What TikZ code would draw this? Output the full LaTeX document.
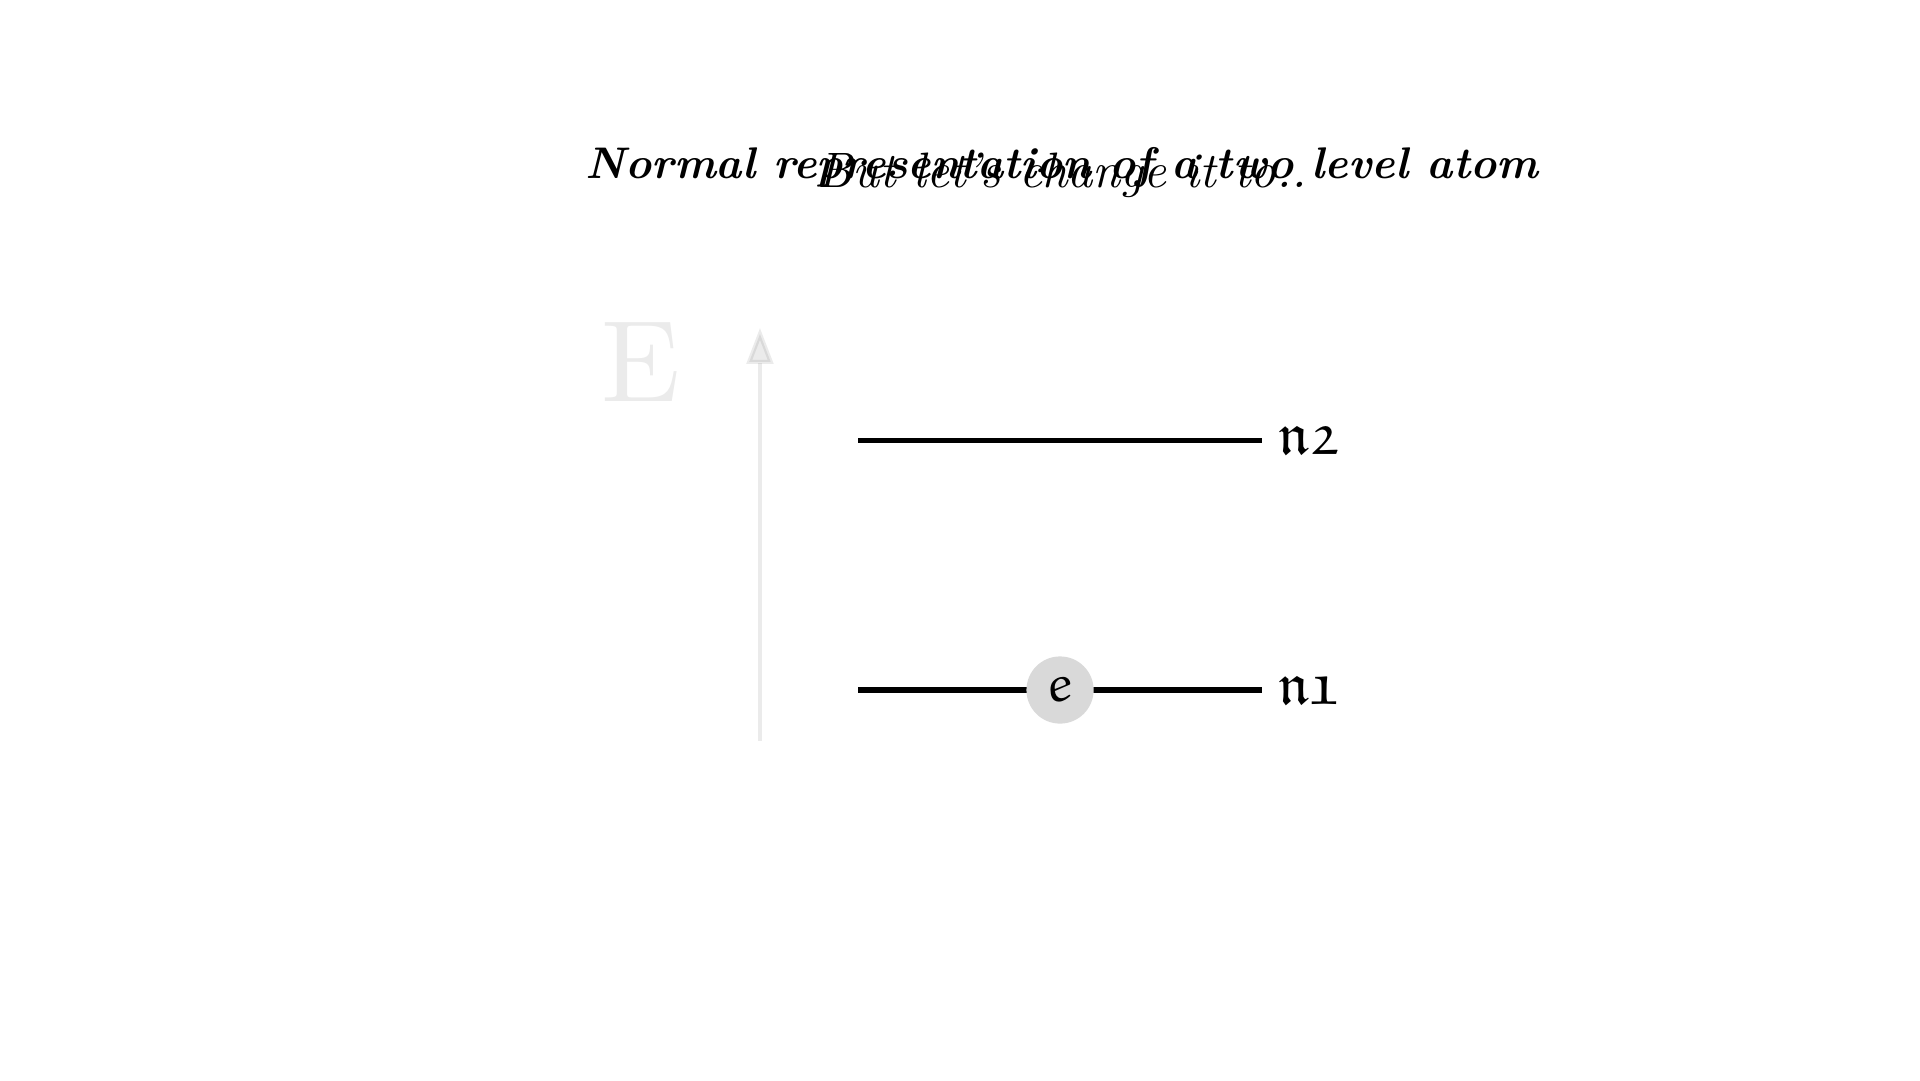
\documentclass[tikz,border=0pt]{standalone}
\usepackage{amssymb}
\usetikzlibrary{arrows.meta,calc}
\DeclareMathAlphabet{\matheul}{U}{eur}{m}{n}
\begin{document}
\begin{tikzpicture}[every node/.style={inner sep=0pt},
  level/.style={line width=1.2pt},
  lvlabel/.style={anchor=west, font=\fontsize{14}{16}\selectfont},
  electron/.style={circle, fill=gray!30, minimum size=0.56cm, font=\fontsize{12}{14}\selectfont}]
  \useasboundingbox (0,0) rectangle (16,-9);
  % titles, one on top of the other
  \node[anchor=base] (t1) at (8.85,-1.49) {\fontsize{10.5}{12}\selectfont\bfseries\itshape Normal representation of a two level atom};
  \node[anchor=base, scale=1.18, transform shape] (t2) at (8.85,-1.56) {\fontsize{10}{12}\selectfont\itshape But let's change it to..};
  % energy axis
  \coordinate (ebot) at (6.333,-6.175);
  \coordinate (etop) at (6.333,-2.733);
  \draw[-{Triangle[length=3mm,width=2.2mm]}, line width=1pt, opacity=0.08] (ebot) -- (etop);
  \node[text=black!8, scale=2.75, transform shape] (E) at (5.34,-3.02) {\fontsize{10}{12}\selectfont E};
  % the two levels
  \foreach \k/\y in {1/-5.75, 2/-3.667} {
    \coordinate (l\k) at (7.15,\y);
    \coordinate (r\k) at (10.517,\y);
    \draw[level] (l\k) -- (r\k);
    \node[lvlabel] (n\k) at ([xshift=1.3mm]r\k) {$\mathfrak{n\k}$};
  }
  \node[electron] (e) at ($(l1)!0.5!(r1)$) {$\matheul{e}$};
\end{tikzpicture}
\end{document}
